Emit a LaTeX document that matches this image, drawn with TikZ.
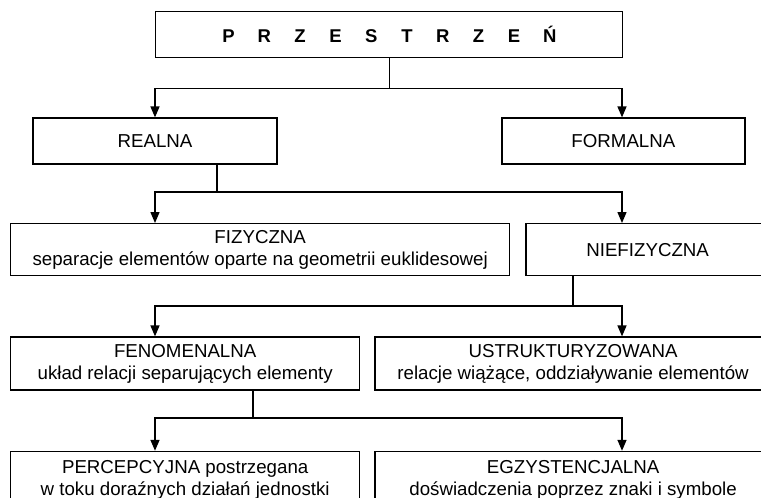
\documentclass[tikz,border=0pt]{standalone}
\usepackage{fontspec}
\setmainfont{Liberation Sans}
\usetikzlibrary{arrows.meta,positioning}

\newcommand{\ltr}[1]{\makebox[35.7pt]{#1}}

\begin{document}
\begin{tikzpicture}[
  x=1pt, y=-1pt,
  font=\fontsize{18.7}{22}\selectfont,
  box/.style={rectangle, draw=black, line width=1.4pt, align=center,
              inner sep=0pt, minimum height=46pt},
  stem/.style={line width=1.4pt},
  arr/.style={-{Triangle[length=11pt,width=9pt]}, line width=1.4pt},
]
\useasboundingbox (0,0) rectangle (761,498);

\coordinate (L) at (155,0);
\coordinate (R) at (622,0);

\node[box, anchor=north west, minimum width=467pt,
      font=\fontsize{18.5}{22}\selectfont\bfseries] (title) at (155,11)
  {\ltr{P}\ltr{R}\ltr{Z}\ltr{E}\ltr{S}\ltr{T}\ltr{R}\ltr{Z}\ltr{E}\ltr{Ń}};
\node[box, minimum width=244pt, below=59pt of title.south west] (realna) {REALNA};
\node[box, minimum width=243pt, below=59pt of title.south east] (formalna) {FORMALNA};
\node[box, minimum width=499pt, minimum height=52pt, anchor=north west] (fiz) at (10,223)
  {FIZYCZNA\\separacje elementów oparte na geometrii euklidesowej};
\node[box, minimum width=243pt, minimum height=52pt, right=15pt of fiz] (niefiz) {NIEFIZYCZNA};
\node[box, minimum width=349pt, minimum height=53pt,
      below=60pt of fiz.south west, anchor=north west] (fenom)
  {FENOMENALNA\\układ relacji separujących elementy};
\node[box, minimum width=396pt, minimum height=53pt, right=14pt of fenom] (ustr)
  {USTRUKTURYZOWANA\\relacje wiążące, oddziaływanie elementów};
\node[box, minimum width=349pt, minimum height=56pt,
      below=60pt of fenom.south west, anchor=north west] (perc)
  {PERCEPCYJNA postrzegana\\w toku doraźnych działań jednostki};
\node[box, minimum width=396pt, minimum height=56pt, right=14pt of perc] (egz)
  {EGZYSTENCJALNA\\doświadczenia poprzez znaki i symbole};

\coordinate (j2) at (217,192);
\coordinate (j3) at (573,306);
\coordinate (j4) at (253,418);

\draw[stem] (title.south) -- ++(0,30) coordinate (j1);
\draw[arr] (j1) -| (L |- realna.north);
\draw[arr] (j1) -| (R |- formalna.north);

\draw[stem] (j2 |- realna.south) -- (j2);
\draw[arr] (j2) -| (L |- fiz.north);
\draw[arr] (j2) -| (R |- niefiz.north);

\draw[stem] (j3 |- niefiz.south) -- (j3);
\draw[arr] (j3) -| (L |- fenom.north);
\draw[arr] (j3) -| (R |- ustr.north);

\draw[stem] (j4 |- fenom.south) -- (j4);
\draw[arr] (j4) -| (L |- perc.north);
\draw[arr] (j4) -| (R |- egz.north);
\end{tikzpicture}
\end{document}
